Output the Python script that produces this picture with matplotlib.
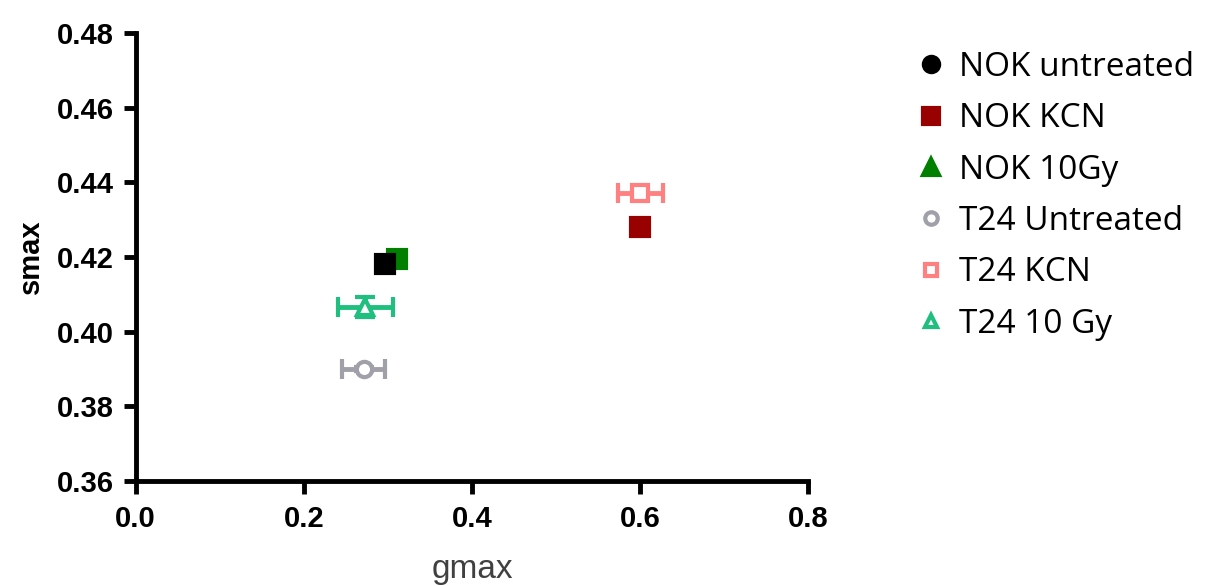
import matplotlib
matplotlib.use("Agg")
import matplotlib.pyplot as plt
from matplotlib.lines import Line2D

# Data
labels = ["NOK untreated", "NOK KCN", "NOK 10Gy", "T24 Untreated", "T24 KCN", "T24 10 Gy"]
gmax = [0.296, 0.600, 0.311, 0.271, 0.600, 0.273]
smax = [0.418, 0.428, 0.4195, 0.390, 0.437, 0.4066]
gmax_err = [0.004, 0.003, 0.003, 0.026, 0.027, 0.033]
smax_err = [0.0008, 0.0008, 0.0008, 0.0006, 0.0012, 0.0028]
colors = ["#000000", "#990000", "#007f00", "#a0a0a8", "#ff8080", "#1fc07f"]
plot_markers = ["s", "s", "s", "o", "s", "^"]
legend_markers = ["o", "s", "^", "o", "s", "^"]
filled = [True, True, True, False, False, False]

plt.rcParams["font.family"] = ["Liberation Sans", "DejaVu Sans"]

fig = plt.figure(figsize=(12.12, 5.86), dpi=100)
ax = fig.add_axes([0.112, 0.179, 0.555, 0.765])

order = [3, 5, 4, 1, 2, 0]
for i in order:
    face = colors[i] if filled[i] else "white"
    ax.errorbar(gmax[i], smax[i], xerr=gmax_err[i], yerr=smax_err[i],
                fmt=plot_markers[i], color=colors[i], mfc=face, mec=colors[i],
                mew=3, ms=13 if filled[i] else 11, elinewidth=3.5, capsize=7,
                capthick=3.5, zorder=3)

ax.set_xlim(0, 0.8)
ax.set_ylim(0.36, 0.48)
ax.set_xticks([0.0, 0.2, 0.4, 0.6, 0.8])
ax.set_yticks([0.36, 0.38, 0.40, 0.42, 0.44, 0.46, 0.48])
ax.xaxis.set_major_formatter(matplotlib.ticker.FormatStrFormatter("%.1f"))
ax.yaxis.set_major_formatter(matplotlib.ticker.FormatStrFormatter("%.2f"))
for s in ["top", "right"]:
    ax.spines[s].set_visible(False)
for s in ["left", "bottom"]:
    ax.spines[s].set_linewidth(3.5)
ax.tick_params(width=3.5, length=9, labelsize=21, direction="out")
ax.tick_params(axis="x", pad=8)
ax.tick_params(axis="y", pad=7)
for t in ax.get_xticklabels() + ax.get_yticklabels():
    t.set_fontweight("bold")
ax.set_xlabel("gmax", fontsize=24, color="#404040", labelpad=15)
ax.set_ylabel("smax", fontsize=21, fontweight="bold", labelpad=8)

handles = []
for i in range(len(labels)):
    face = colors[i] if filled[i] else "white"
    handles.append(Line2D([], [], ls="none", marker=legend_markers[i],
                          color=colors[i], mfc=face, mec=colors[i],
                          mew=3, ms=11 if filled[i] else 9))
leg = fig.legend(handles, labels, loc="upper left", bbox_to_anchor=(0.738, 0.953),
                 frameon=False, prop={"family": "Open Sans", "size": 24},
                 handletextpad=0.45, labelspacing=0.55, handlelength=0.8,
                 borderpad=0.2)

fig.savefig("out.png", dpi=100)
